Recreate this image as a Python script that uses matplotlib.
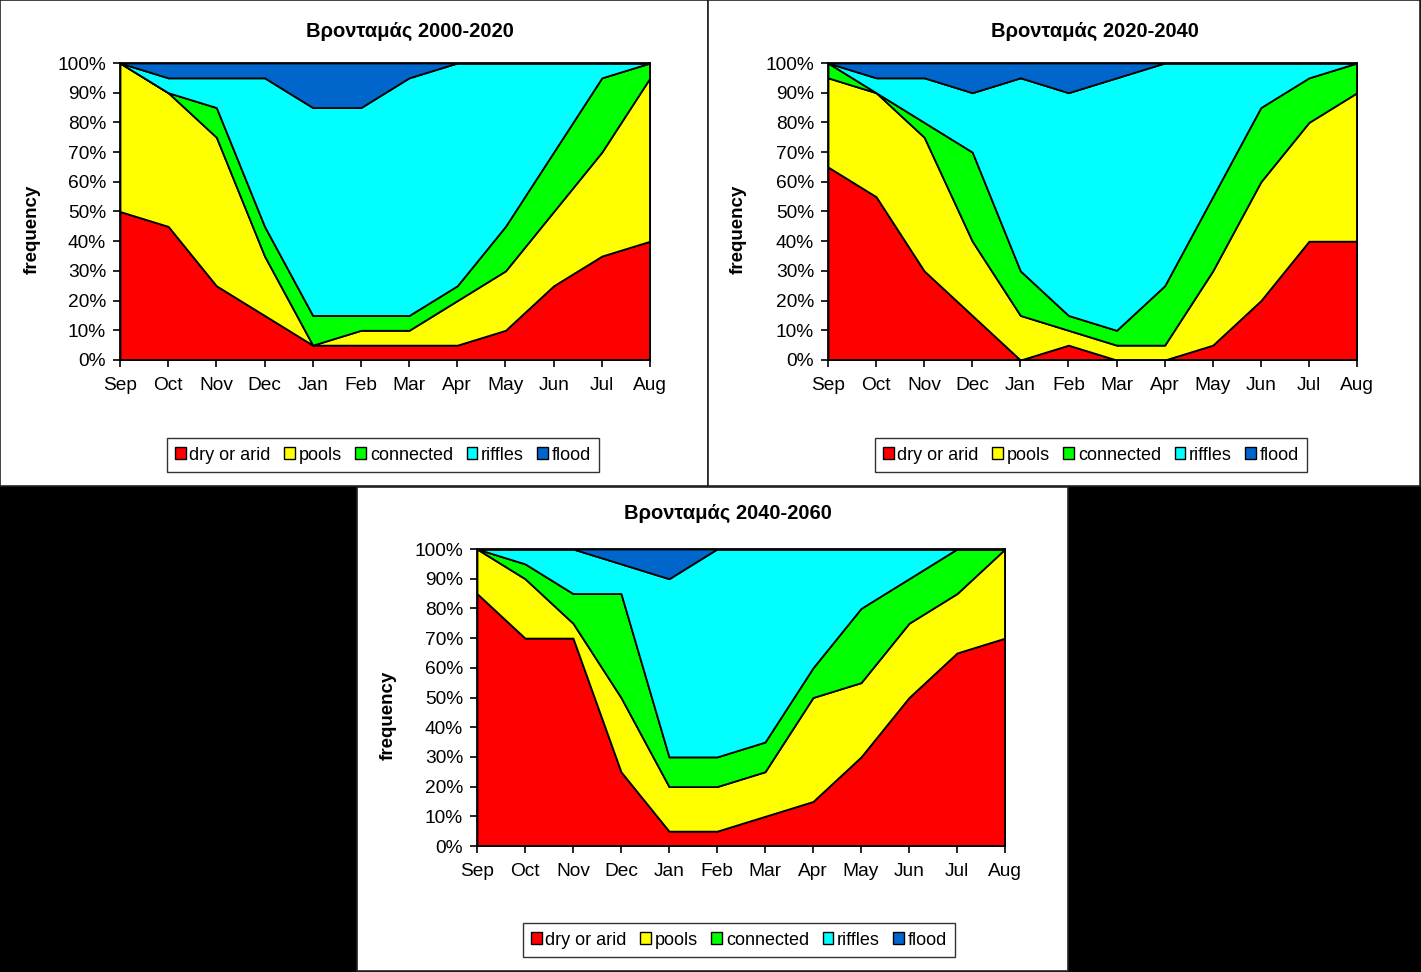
import matplotlib
matplotlib.use("Agg")
import matplotlib.pyplot as plt
from matplotlib.patches import Rectangle, Patch
from matplotlib.ticker import FuncFormatter

plt.rcParams['font.family'] = ['Liberation Sans', 'DejaVu Sans']

months = ["Sep", "Oct", "Nov", "Dec", "Jan", "Feb", "Mar", "Apr", "May", "Jun", "Jul", "Aug"]
series_names = ["dry or arid", "pools", "connected", "riffles", "flood"]
colors = ["#FF0000", "#FFFF00", "#00FF00", "#00FFFF", "#0066CC"]

titles = ["Βρονταμάς 2000-2020", "Βρονταμάς 2020-2040", "Βρονταμάς 2040-2060"]

# Panel 1: 2000-2020 (frequency, %)
dry_2000 = [50, 45, 25, 15, 5, 5, 5, 5, 10, 25, 35, 40]
pools_2000 = [50, 45, 50, 20, 0, 5, 5, 15, 20, 25, 35, 55]
connected_2000 = [0, 0, 10, 10, 10, 5, 5, 5, 15, 20, 25, 5]
riffles_2000 = [0, 5, 10, 50, 70, 70, 80, 75, 55, 30, 5, 0]
flood_2000 = [0, 5, 5, 5, 15, 15, 5, 0, 0, 0, 0, 0]

# Panel 2: 2020-2040
dry_2020 = [65, 55, 30, 15, 0, 5, 0, 0, 5, 20, 40, 40]
pools_2020 = [30, 35, 45, 25, 15, 5, 5, 5, 25, 40, 40, 50]
connected_2020 = [5, 0, 5, 30, 15, 5, 5, 20, 25, 25, 15, 10]
riffles_2020 = [0, 5, 15, 20, 65, 75, 85, 75, 45, 15, 5, 0]
flood_2020 = [0, 5, 5, 10, 5, 10, 5, 0, 0, 0, 0, 0]

# Panel 3: 2040-2060
dry_2040 = [85, 70, 70, 25, 5, 5, 10, 15, 30, 50, 65, 70]
pools_2040 = [15, 20, 5, 25, 15, 15, 15, 35, 25, 25, 20, 30]
connected_2040 = [0, 5, 10, 35, 10, 10, 10, 10, 25, 15, 15, 0]
riffles_2040 = [0, 5, 15, 10, 60, 70, 65, 40, 20, 10, 0, 0]
flood_2040 = [0, 0, 0, 5, 10, 0, 0, 0, 0, 0, 0, 0]

data = [
    [dry_2000, pools_2000, connected_2000, riffles_2000, flood_2000],
    [dry_2020, pools_2020, connected_2020, riffles_2020, flood_2020],
    [dry_2040, pools_2040, connected_2040, riffles_2040, flood_2040],
]

W, H = 1421, 972
fig = plt.figure(figsize=(W / 100, H / 100), dpi=100, facecolor="black")

def fx(px):
    return px / W

def fy(py):
    return 1 - py / H

# panel rectangles (x0, y0, x1, y1) in pixels
panels = [(0, 0, 708, 486), (708, 0, 1420, 486), (357, 487, 1068, 971)]
# plot areas (left, top, right, bottom) in pixels
areas = [(120, 63, 650, 360), (828, 63, 1357, 360), (477, 549, 1005, 846)]
title_pos = [(410, 31), (1095, 31), (728, 513)]
ylab_pos = [(32, 229), (738, 229), (388, 715)]
legend_pos = [(383, 455), (1091, 455), (739, 940)]

for (x0, y0, x1, y1) in panels:
    fig.patches.append(Rectangle((fx(x0), fy(y1)), fx(x1 - x0), (y1 - y0) / H,
                                 transform=fig.transFigure, facecolor="white",
                                 edgecolor="#222222", linewidth=1.2, zorder=-5))

x = list(range(len(months)))
for i in range(3):
    l, t, r, b = areas[i]
    ax = fig.add_axes([fx(l), fy(b), fx(r - l), (b - t) / H], zorder=2)
    ax.stackplot(x, *data[i], colors=colors, edgecolor="black", linewidth=1.3)
    ax.set_xlim(0, len(months) - 1)
    ax.set_ylim(0, 100)
    ax.set_xticks(x)
    ax.set_xticklabels(months)
    ax.set_yticks(range(0, 101, 10))
    ax.yaxis.set_major_formatter(FuncFormatter(lambda v, p: f"{v:.0f}%"))
    ax.tick_params(axis="both", direction="out", length=5, width=1.2, labelsize=13.8, color="black")
    ax.tick_params(axis="y", pad=5)
    ax.tick_params(axis="x", pad=7)
    for s in ax.spines.values():
        s.set_linewidth(1.3)
        s.set_color("black")
    ax.set_facecolor("white")

    tx, ty = title_pos[i]
    fig.text(fx(tx), fy(ty), titles[i], ha="center", va="center", fontsize=14.5,
             fontweight="bold", zorder=3)
    yx, yy = ylab_pos[i]
    fig.text(fx(yx), fy(yy), "frequency", ha="center", va="center", rotation=90,
             fontsize=13.5, fontweight="bold", zorder=3)

    handles = [Patch(facecolor=c, edgecolor="black", linewidth=1.0) for c in colors]
    lx, ly = legend_pos[i]
    leg = fig.legend(handles, series_names, loc="center", bbox_to_anchor=(fx(lx), fy(ly)),
                     ncol=5, fontsize=13, frameon=True, fancybox=False,
                     handlelength=0.6, handleheight=0.6, handletextpad=0.2,
                     columnspacing=0.75, borderpad=0.45)
    leg.get_frame().set_edgecolor("black")
    leg.get_frame().set_linewidth(1.0)
    leg.set_zorder(3)

fig.savefig("out.png", dpi=100, facecolor="black")
